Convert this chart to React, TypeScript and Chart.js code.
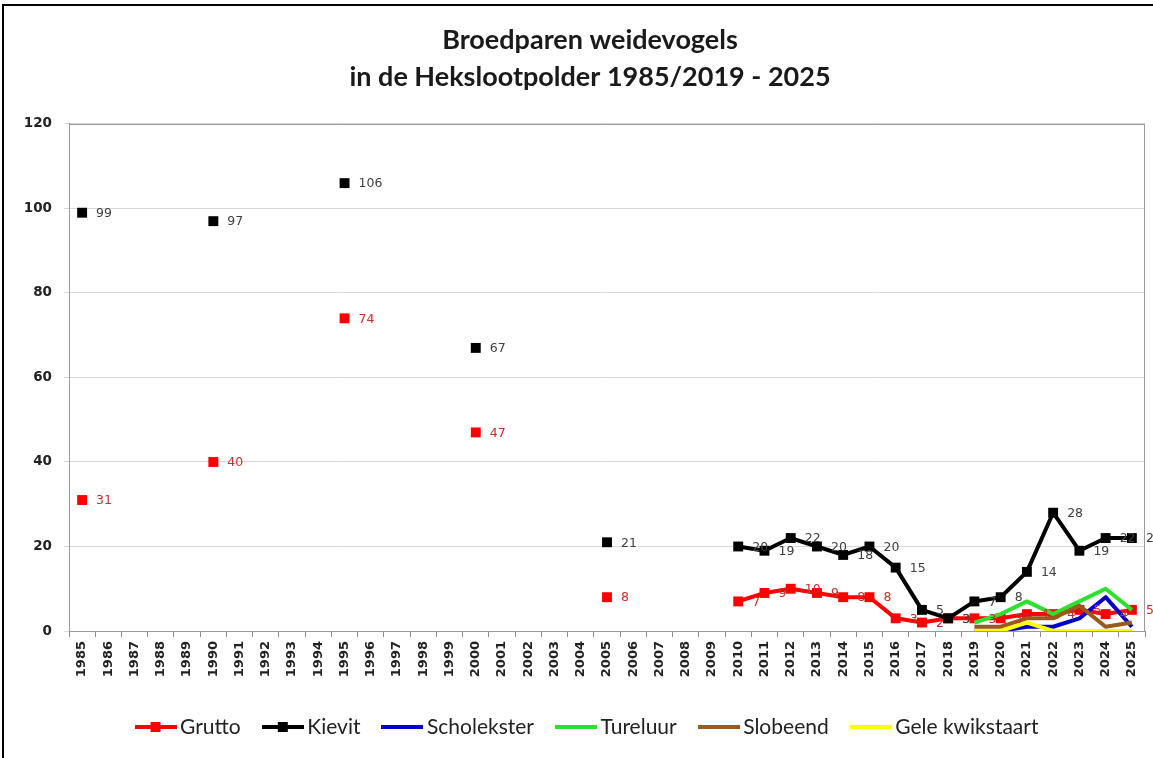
import React, { useEffect, useRef } from 'react';
import { Chart, registerables } from 'chart.js';

Chart.register(...registerables);

const years = [
  '1985', '1986', '1987', '1988', '1989', '1990', '1991', '1992', '1993', '1994',
  '1995', '1996', '1997', '1998', '1999', '2000', '2001', '2002', '2003', '2004',
  '2005', '2006', '2007', '2008', '2009', '2010', '2011', '2012', '2013', '2014',
  '2015', '2016', '2017', '2018', '2019', '2020', '2021', '2022', '2023', '2024',
  '2025',
];

const N = null;

const grutto = [
  31, N, N, N, N, 40, N, N, N, N,
  74, N, N, N, N, 47, N, N, N, N,
  8, N, N, N, N, 7, 9, 10, 9, 8,
  8, 3, 2, 3, 3, 3, 4, 4, 5, 4,
  5,
];

const kievit = [
  99, N, N, N, N, 97, N, N, N, N,
  106, N, N, N, N, 67, N, N, N, N,
  21, N, N, N, N, 20, 19, 22, 20, 18,
  20, 15, 5, 3, 7, 8, 14, 28, 19, 22,
  22,
];

const scholekster = [
  N, N, N, N, N, N, N, N, N, N,
  N, N, N, N, N, N, N, N, N, N,
  N, N, N, N, N, N, N, N, N, N,
  N, N, N, N, 0, 0, 1, 1, 3, 8,
  1,
];

const tureluur = [
  N, N, N, N, N, N, N, N, N, N,
  N, N, N, N, N, N, N, N, N, N,
  N, N, N, N, N, N, N, N, N, N,
  N, N, N, N, 2, 4, 7, 4, 7, 10,
  5,
];

const slobeend = [
  N, N, N, N, N, N, N, N, N, N,
  N, N, N, N, N, N, N, N, N, N,
  N, N, N, N, N, N, N, N, N, N,
  N, N, N, N, 1, 1, 3, 3, 6, 1,
  2,
];

const geleKwikstaart = [
  N, N, N, N, N, N, N, N, N, N,
  N, N, N, N, N, N, N, N, N, N,
  N, N, N, N, N, N, N, N, N, N,
  N, N, N, N, 0, 0, 2, 0, 0, 0,
  0,
];

const yTicks = [0, 20, 40, 60, 80, 100, 120];

const titleLines = ['Broedparen weidevogels', 'in de Hekslootpolder 1985/2019 - 2025'];

const seriesNames = ['Grutto', 'Kievit', 'Scholekster', 'Tureluur', 'Slobeend', 'Gele kwikstaart'];
const seriesColors = ['#ff0000', '#000000', '#0000c8', '#2ee02e', '#9a5a1e', '#ffff00'];
const seriesHasMarker = [true, true, false, false, false, false];
const labelColors: (string | null)[] = ['#c0302c', '#404040', null, null, null, null];

function legendImage(color: string, marker: boolean) {
  const c = document.createElement('canvas');
  c.width = 42;
  c.height = 14;
  const g = c.getContext('2d')!;
  g.strokeStyle = color;
  g.lineWidth = 4;
  g.beginPath();
  g.moveTo(0, 7);
  g.lineTo(42, 7);
  g.stroke();
  if (marker) {
    g.fillStyle = color;
    g.fillRect(16, 2, 10, 10);
  }
  return c;
}

const framePlugin = {
  id: 'frame',
  beforeDatasetsDraw(chart: any) {
    const { ctx, chartArea } = chart;
    ctx.save();
    ctx.strokeStyle = '#9a9a9a';
    ctx.lineWidth = 1;
    ctx.strokeRect(chartArea.left + 0.5, chartArea.top + 0.5, chartArea.right - chartArea.left - 1, chartArea.bottom - chartArea.top);
    ctx.restore();
  },
};

const valueLabelPlugin = {
  id: 'valueLabels',
  afterDatasetsDraw(chart: any) {
    const ctx = chart.ctx;
    ctx.save();
    ctx.font = '12.5px "DejaVu Sans"';
    ctx.textBaseline = 'middle';
    ctx.textAlign = 'left';
    chart.data.datasets.forEach((ds: any, i: number) => {
      const color = labelColors[i];
      if (!color) return;
      const meta = chart.getDatasetMeta(i);
      meta.data.forEach((pt: any, j: number) => {
        const v = ds.data[j];
        if (v === null || v === undefined) return;
        ctx.fillStyle = color;
        ctx.fillText(String(v), pt.x + 14, pt.y + 1);
      });
    });
    ctx.restore();
  },
};

export default function App() {
  const ref = useRef<HTMLCanvasElement | null>(null);

  useEffect(() => {
    if (!ref.current) return;
    const seriesData = [grutto, kievit, scholekster, tureluur, slobeend, geleKwikstaart];
    const legendImgs = seriesNames.map((_, i) => legendImage(seriesColors[i], seriesHasMarker[i]));

    const chart = new Chart(ref.current, {
      type: 'line',
      data: {
        labels: years,
        datasets: seriesNames.map((name, i) => ({
          label: name,
          data: seriesData[i],
          order: seriesNames.length - i,
          borderColor: seriesColors[i],
          backgroundColor: seriesColors[i],
          borderWidth: 4,
          borderJoinStyle: 'round' as const,
          pointStyle: 'rect' as const,
          pointRadius: seriesHasMarker[i] ? 7 : 0,
          pointHoverRadius: seriesHasMarker[i] ? 7 : 0,
          pointBorderWidth: 0,
          pointBackgroundColor: seriesColors[i],
          spanGaps: false,
          tension: 0,
          fill: false,
        })),
      },
      options: {
        animation: false,
        responsive: false,
        maintainAspectRatio: false,
        layout: { padding: { left: 0, right: 0, top: 0, bottom: 10.5 } },
        plugins: {
          title: {
            display: true,
            text: titleLines,
            color: '#1a1a1a',
            font: { family: 'Lato', size: 27, weight: 'bold', lineHeight: 1.37 },
            padding: { top: 22, bottom: 28 },
          },
          legend: {
            display: true,
            position: 'bottom',
            labels: {
              usePointStyle: true,
              pointStyleWidth: 28,
              padding: 28,
              color: '#222',
              font: { family: 'Lato', size: 21 },
              generateLabels: (c: any) =>
                c.data.datasets.map((ds: any, i: number) => ({
                  text: ds.label,
                  fillStyle: seriesColors[i],
                  strokeStyle: seriesColors[i],
                  lineWidth: 0,
                  pointStyle: legendImgs[i],
                  hidden: false,
                  datasetIndex: i,
                  fontColor: '#222',
                })),
            },
          },
          tooltip: { enabled: false },
        },
        scales: {
          x: {
            type: 'category',
            offset: true,
            grid: { display: true, drawOnChartArea: false, offset: true, tickLength: 6, color: '#8a8a8a' },
            border: { display: true, color: '#8a8a8a' },
            ticks: {
              autoSkip: false,
              maxRotation: 90,
              minRotation: 90,
              padding: 4,
              color: '#222',
              font: { family: 'DejaVu Sans', size: 13, weight: 'bold' },
            },
            afterFit: (s: any) => { s.height = 57.5; },
          },
          y: {
            type: 'linear',
            min: 0,
            max: 120,
            afterBuildTicks: (s: any) => { s.ticks = yTicks.map((v) => ({ value: v })); },
            ticks: {
              padding: 12,
              color: '#222',
              font: { family: 'DejaVu Sans', size: 13.5, weight: 'bold' },
            },
            grid: { color: '#d9d9d9', tickLength: 5, lineWidth: 1 },
            border: { display: true, color: '#8a8a8a' },
            afterFit: (s: any) => { s.width = 69; },
          },
          yRight: {
            type: 'linear',
            position: 'right',
            min: 0,
            max: 120,
            display: true,
            grid: { display: false },
            border: { display: false },
            ticks: { display: false },
            afterFit: (s: any) => { s.width = 35; },
          },
        },
      },
      plugins: [framePlugin, valueLabelPlugin],
    } as any);

    return () => chart.destroy();
  }, []);

  return (
    <div style={{ position: 'fixed', left: 0, top: 0, width: 1153, height: 758, overflow: 'hidden', background: '#fff' }}>
      <canvas ref={ref} width={1180} height={758} style={{ position: 'absolute', left: 0, top: 0, width: 1180, height: 758 }} />
      <div
        style={{
          position: 'absolute',
          left: 2,
          top: 4,
          width: 1300,
          height: 900,
          borderLeft: '2px solid #000',
          borderTop: '2px solid #000',
          pointerEvents: 'none',
        }}
      />
    </div>
  );
}
